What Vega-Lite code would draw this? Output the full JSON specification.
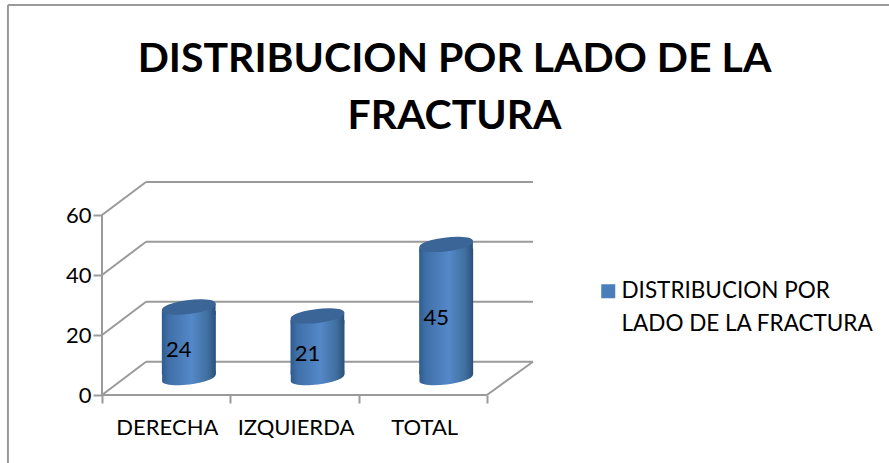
{
"$schema":"https://vega.github.io/schema/vega-lite/v6.json",
"autosize":{"type":"none"},
"padding":{"left":102,"top":182,"right":356,"bottom":68},
"width":431,"height":213,
"background":"white",
"view":{"stroke":null},
"title":{"text":["DISTRIBUCION POR LADO DE LA","FRACTURA"],"font":"Lato","fontSize":41,"fontWeight":"bold","color":"#000000","anchor":"middle","dx":137,"dy":179,"baseline":"bottom","lineHeight":57,"frame":"group"},
"datasets":{
"frame":[
{"x":0.343,"x2":3.359,"y":11.1,"y2":11.1},
{"x":0.343,"x2":3.359,"y":31.1,"y2":31.1},
{"x":0.343,"x2":3.359,"y":51.1,"y2":51.1},
{"x":0.343,"x2":3.359,"y":71,"y2":71},
{"x":0,"x2":0.343,"y":0,"y2":11.1},
{"x":0,"x2":0.343,"y":20,"y2":31.1},
{"x":0,"x2":0.343,"y":40,"y2":51.1},
{"x":0,"x2":0.343,"y":60,"y2":71},
{"x":3,"x2":3.359,"y":0,"y2":11.1},
{"x":0,"x2":3,"y":0,"y2":0},
{"x":0,"x2":0,"y":0,"y2":60},
{"x":-0.733,"x2":6.2,"y":130,"y2":130},
{"x":-0.733,"x2":-0.733,"y":130,"y2":-23}
],
"bars":[
{"lado":"DERECHA","casos":24,"serie":"DISTRIBUCION POR LADO DE LA FRACTURA"},
{"lado":"IZQUIERDA","casos":21,"serie":"DISTRIBUCION POR LADO DE LA FRACTURA"},
{"lado":"TOTAL","casos":45,"serie":"DISTRIBUCION POR LADO DE LA FRACTURA"}
]},
"layer":[
{"data":{"name":"frame"},
 "mark":{"type":"rule","color":"#9a9a9a","strokeWidth":2,"clip":false},
 "encoding":{
  "x":{"field":"x","type":"quantitative","scale":{"domain":[0,3.359],"nice":false,"zero":false},
   "axis":{"values":[0,1,2,3],"labels":false,"title":null,"grid":false,"domain":false,"tickSize":8,"tickWidth":2,"tickColor":"#9a9a9a"}},
  "x2":{"field":"x2"},
  "y":{"field":"y","type":"quantitative","scale":{"domain":[0,71],"nice":false,"zero":false},
   "axis":{"values":[0,20,40,60],"title":null,"grid":false,"domain":false,"tickSize":9,"tickWidth":2,"tickColor":"#9a9a9a","labelPadding":2,"labelFont":"Lato","labelFontSize":22,"labelColor":"#000000"}},
  "y2":{"field":"y2"}}},
{"data":{"name":"bars"},
 "encoding":{
  "x":{"field":"lado","type":"nominal","sort":null,"scale":{"type":"point","padding":0.675},
   "axis":{"orient":"bottom","title":null,"domain":false,"ticks":false,"labelAngle":0,"labelOffset":-22,"labelPadding":22,"labelFont":"Lato","labelFontSize":22,"labelColor":"#000000"}}},
 "layer":[
  {"mark":{"type":"point","filled":true,"opacity":1,"size":4,"shape":"square"},
   "encoding":{"y":{"datum":5,"type":"quantitative","scale":{"domain":[-5.54,65.94],"nice":false,"zero":false},"axis":null},
    "color":{"field":"serie","type":"nominal","scale":{"range":["#4a7ebb"]},
     "legend":{"title":null,"orient":"none","legendX":495,"legendY":98,"symbolType":"square","symbolSize":196,"labelOffset":2,"labelFont":"Lato","labelFontSize":22.5,"labelColor":"#000000","labelLimit":400,"labelExpr":"['DISTRIBUCION POR','LADO DE LA FRACTURA']","symbolOpacity":1,"encode":{"labels":{"update":{"lineHeight":{"value":33}}}}}}}},
  {"mark":{"type":"bar","size":54,"yOffset":4,"y2Offset":-4,"color":{"gradient":"linear","x1":0,"x2":1,"y1":0,"y2":0,"stops":[{"offset":0,"color":"#2f5b8f"},{"offset":0.12,"color":"#3f6fa8"},{"offset":0.55,"color":"#5488c8"},{"offset":0.85,"color":"#40709f"},{"offset":1,"color":"#2c4f7c"}]}},
   "encoding":{"y":{"field":"casos","type":"quantitative","scale":{"domain":[-5.54,65.94],"nice":false,"zero":false},"axis":null},"y2":{"datum":0}}},
  {"mark":{"type":"point","filled":true,"opacity":1,"size":2916,"shape":"M-0.99,-0.3L-0.99,0.12A1,0.24 -7 0 0 0.99,-0.12L0.99,-0.3Z","color":{"gradient":"linear","x1":0,"x2":1,"y1":0,"y2":0,"stops":[{"offset":0,"color":"#2f5b8f"},{"offset":0.12,"color":"#3f6fa8"},{"offset":0.55,"color":"#5488c8"},{"offset":0.85,"color":"#40709f"},{"offset":1,"color":"#2c4f7c"}]}},
   "encoding":{"y":{"datum":0,"type":"quantitative","scale":{"domain":[-5.54,65.94],"nice":false,"zero":false},"axis":null}}},
  {"mark":{"type":"point","filled":true,"opacity":1,"size":2916,"shape":"M-0.99,0.3L-0.99,0.12A1,0.24 -7 0 1 0.99,-0.12L0.99,0.3Z","color":{"gradient":"linear","x1":0,"x2":1,"y1":0,"y2":0,"stops":[{"offset":0,"color":"#2f5b8f"},{"offset":0.12,"color":"#3f6fa8"},{"offset":0.55,"color":"#5488c8"},{"offset":0.85,"color":"#40709f"},{"offset":1,"color":"#2c4f7c"}]}},
   "encoding":{"y":{"field":"casos","type":"quantitative","scale":{"domain":[-5.54,65.94],"nice":false,"zero":false},"axis":null}}},
  {"mark":{"type":"point","filled":true,"opacity":1,"size":2916,"color":"#3a6596","shape":"M-0.99,0.12A1,0.24 -7 1 1 0.99,-0.12A1,0.24 -7 1 1 -0.99,0.12Z"},
   "encoding":{"y":{"field":"casos","type":"quantitative","scale":{"domain":[-5.54,65.94],"nice":false,"zero":false},"axis":null}}},
  {"transform":[{"calculate":"datum.casos/2","as":"mitad"}],
   "mark":{"type":"text","font":"Lato","fontSize":22,"color":"#000000","dx":-10,"dy":7},
   "encoding":{"y":{"field":"mitad","type":"quantitative","scale":{"domain":[-5.54,65.94],"nice":false,"zero":false},"axis":null},"text":{"field":"casos","type":"quantitative"}}}
 ]}
],
"resolve":{"scale":{"x":"independent","y":"independent"},"axis":{"x":"independent","y":"independent"}},
"config":{"style":{"guide-label":{"font":"Lato"}}}
}
